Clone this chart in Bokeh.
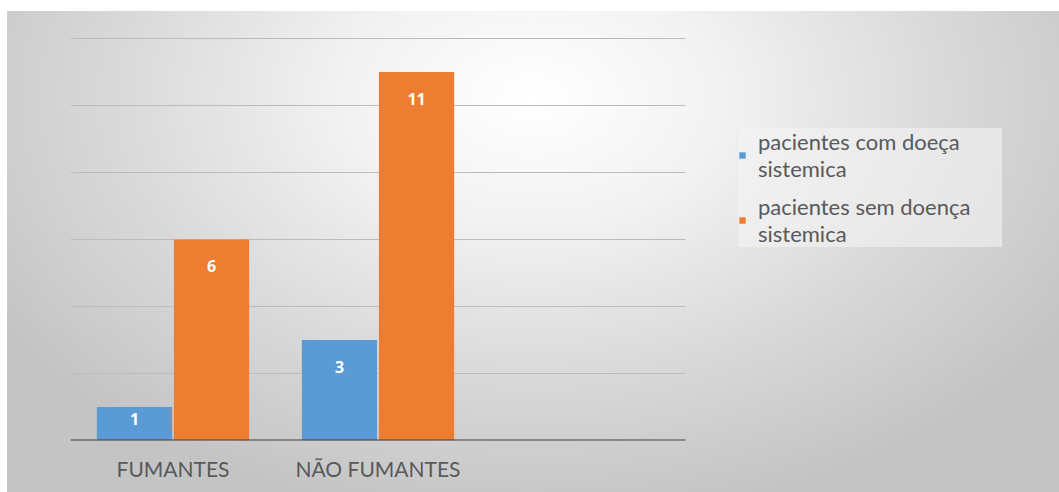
from bokeh.plotting import figure
from bokeh.models import ColumnDataSource, Range1d, Legend, LegendItem, LabelSet, FixedTicker
from bokeh.core.properties import value
from bokeh.embed import file_html
from bokeh.resources import INLINE

categories = ["FUMANTES", "NÃO FUMANTES", ""]
series_names = ["pacientes com doeça\nsistemica", "pacientes sem doença\nsistemica"]
com_doenca = [1, 3]
sem_doenca = [6, 11]
y_ticks = [0, 2, 4, 6, 8, 10, 12]

BLUE = "#5b9bd5"
ORANGE = "#ed7d31"
FONT = "Lato"
BOLD_FONT = "Open Sans"

centers = [i + 0.5 for i in range(len(categories))]
BAR_W = 0.367
DX = 0.188

def label_pos(vals):
    return [v - min(0.8, 0.35 * v) for v in vals]

def make_src(vals, dx):
    xs = [c + dx for c in centers[:len(vals)]]
    return ColumnDataSource(dict(x=xs, y=vals, ly=label_pos(vals), t=[str(v) for v in vals]))

src1 = make_src(com_doenca, -DX)
src2 = make_src(sem_doenca, DX)

W, H = 1052, 481
LEFT, TOP, BOTTOM = 63, 20, 52
frame_w = W - LEFT
cat_px = 205.0
frame_h = H - TOP - BOTTOM
px_per_unit = 402.0 / 12

p = figure(width=W, height=H,
           x_range=Range1d(0, frame_w / cat_px),
           y_range=Range1d(0, frame_h / px_per_unit),
           output_backend="svg", toolbar_location=None,
           min_border_left=LEFT, min_border_right=0, min_border_top=TOP, min_border_bottom=BOTTOM)
p.margin = (11, 0, 0, 7)
p.styles = {"background": "radial-gradient(ellipse 60% 88% at 50% 18%, #ffffff 0%, #f2f2f2 30%, #d9d9d9 66%, #c4c4c4 100%)"}
p.background_fill_color = None
p.border_fill_color = None
p.outline_line_color = None

n = len(categories)
p.segment(x0=[0] * len(y_ticks[1:]), x1=[n] * len(y_ticks[1:]), y0=y_ticks[1:], y1=y_ticks[1:],
          line_color="#bbbbbb", line_width=1)

r1 = p.vbar(x="x", top="y", width=BAR_W, source=src1, fill_color=BLUE, line_color=None)
r2 = p.vbar(x="x", top="y", width=BAR_W, source=src2, fill_color=ORANGE, line_color=None)

p.segment(x0=[0], x1=[n], y0=[y_ticks[0]], y1=[y_ticks[0]], line_color="#404040", line_width=2)

for src in (src1, src2):
    p.add_layout(LabelSet(x="x", y="ly", text="t", source=src,
                          text_color="white", text_font=value(BOLD_FONT), text_font_style="bold",
                          text_font_size="16px", text_align="center", text_baseline="middle"))

p.yaxis.visible = False
p.xgrid.visible = False
p.ygrid.visible = False

xa = p.xaxis[0]
xa.ticker = FixedTicker(ticks=centers)
xa.major_label_overrides = {c: lab for c, lab in zip(centers, categories)}
xa.axis_line_color = None
xa.major_tick_line_color = None
xa.minor_tick_line_color = None
xa.major_label_text_font = FONT
xa.major_label_text_font_size = "21px"
xa.major_label_text_color = "#595959"
xa.major_label_standoff = 9

legend = Legend(items=[LegendItem(label=series_names[0], renderers=[r1]),
                       LegendItem(label=series_names[1], renderers=[r2])],
                location=(668, 193))
legend.label_text_font = FONT
legend.label_text_font_size = "22px"
legend.label_text_color = "#595959"
legend.glyph_width = 8
legend.glyph_height = 8
legend.label_standoff = 12
legend.label_width = 244
legend.spacing = 11
legend.padding = 11
legend.margin = 0
legend.background_fill_color = "#f4f4f4"
legend.background_fill_alpha = 0.6
legend.border_line_color = None
p.add_layout(legend, "center")

open("out.html", "w").write(file_html(p, INLINE))
